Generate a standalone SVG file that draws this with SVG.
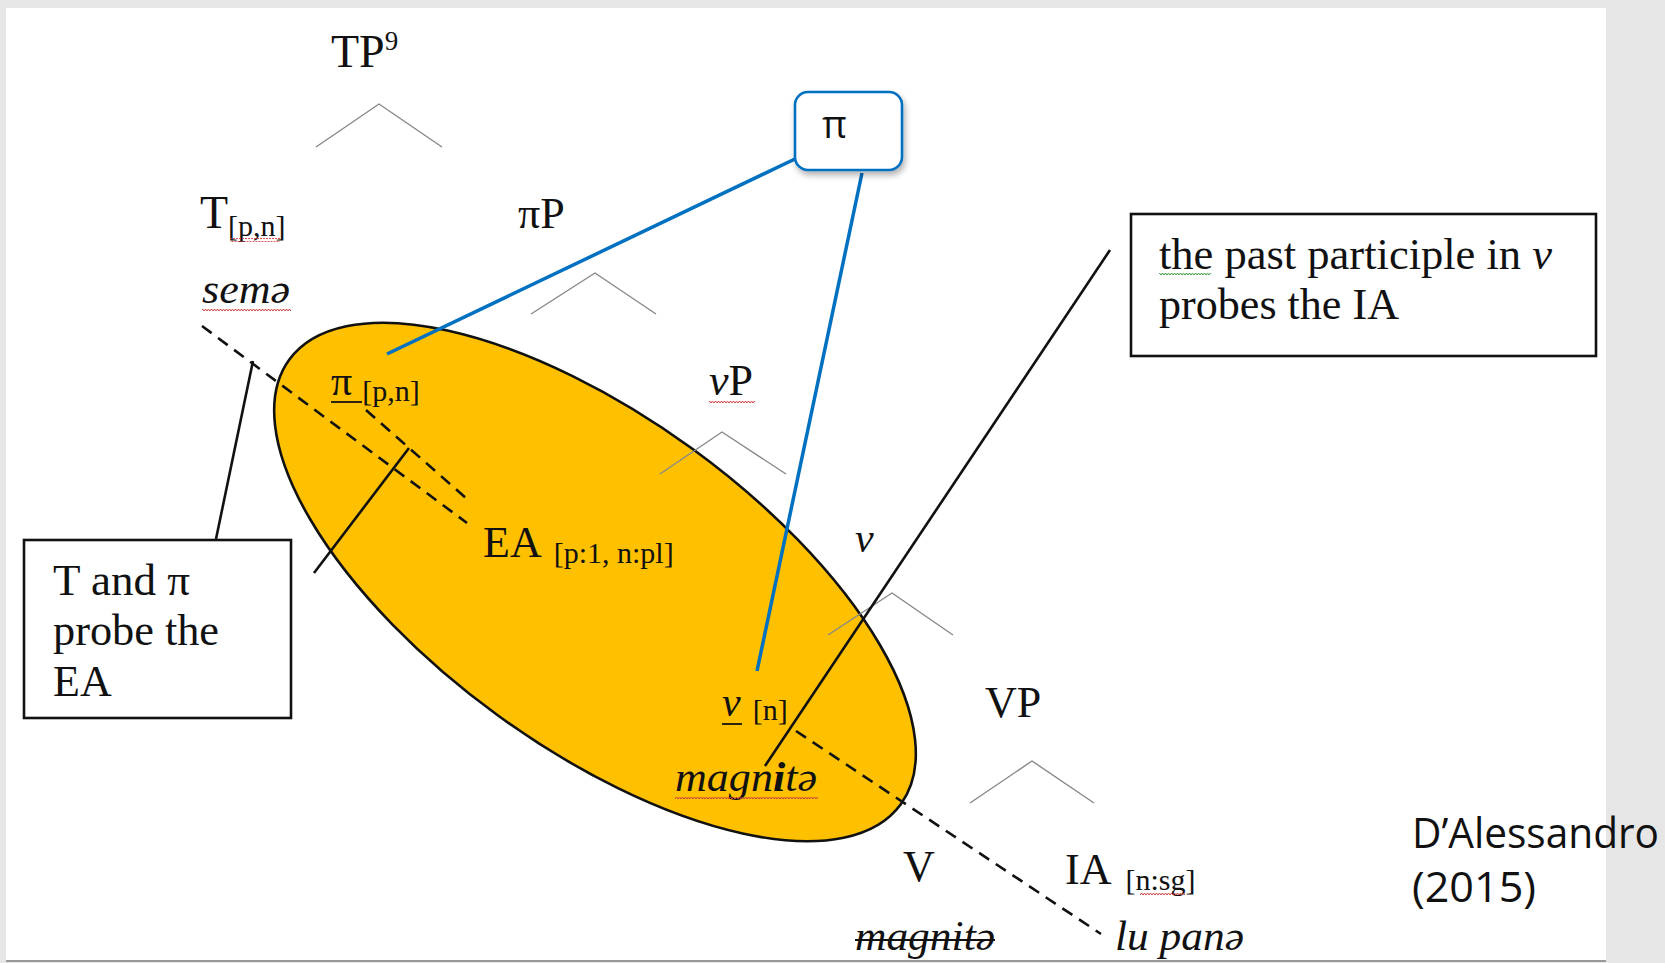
<svg xmlns="http://www.w3.org/2000/svg" width="1665" height="963" viewBox="0 0 1665 963">
<style>
.t{font-family:"Liberation Serif","Times New Roman",serif;fill:#111}
.it{font-style:italic}
.br{stroke:#888;stroke-width:1.4;fill:none}
.conn{stroke:#111;stroke-width:2.6;fill:none}
.dash{stroke:#111;stroke-width:2.6;fill:none;stroke-dasharray:12 8}
.blue{stroke:#0070C0;stroke-width:3.5;fill:none}
.box{fill:#fff;stroke:#111;stroke-width:2.6}
.sans{font-family:"Open Sans","Noto Sans","Liberation Sans",sans-serif;fill:#111}
</style>
<defs>
<pattern id="wavyR" width="6" height="4" patternUnits="userSpaceOnUse"><path d="M0 3 L1.5 1 L3 3 L4.5 1 L6 3" stroke="#d04040" stroke-width="1" fill="none"/></pattern>
<pattern id="wavyG" width="6" height="4" patternUnits="userSpaceOnUse"><path d="M0 3 L1.5 1 L3 3 L4.5 1 L6 3" stroke="#3a9a3a" stroke-width="1" fill="none"/></pattern>
<filter id="sh" x="-20%" y="-20%" width="150%" height="150%"><feDropShadow dx="2" dy="4" stdDeviation="3" flood-color="#000" flood-opacity="0.3"/></filter>
</defs>
<rect x="0" y="0" width="1665" height="963" fill="#e6e6e6"/>
<rect x="6" y="8" width="1600" height="953" fill="#fff"/>
<line x1="6" y1="961" x2="1606" y2="961" stroke="#999" stroke-width="2"/>

<g id="ellipse">
<ellipse cx="595" cy="582" rx="378" ry="165" transform="rotate(36 595 582)" fill="#FFC000" stroke="#111" stroke-width="2.6"/>
</g>

<g id="tree">
<polyline class="br" points="316,147 379,104 442,147"/>
<polyline class="br" points="531,314 595,273 656,314"/>
<polyline class="br" points="660,474 722,432 786,474"/>
<polyline class="br" points="828,635 892,593 953,635"/>
<polyline class="br" points="970,803 1032,761 1094,803"/>
</g>

<g id="connectors">
<line class="dash" x1="202" y1="326" x2="467" y2="523"/>
<line class="dash" x1="366" y1="410" x2="467" y2="499"/>
<line class="dash" x1="796" y1="731" x2="1101" y2="934"/>
<line class="conn" x1="216" y1="539" x2="253" y2="361"/>
<line class="conn" x1="314" y1="573" x2="409" y2="448"/>
<line class="conn" x1="765" y1="766" x2="1110" y2="250"/>
<line class="blue" x1="797" y1="158" x2="387" y2="354"/>
<line class="blue" x1="862" y1="173" x2="757" y2="671"/>
</g>

<g id="TP"><text class="t" x="331" y="67" font-size="46">TP<tspan font-size="27" dy="-17">9</tspan></text></g>
<g id="T"><text class="t" x="200" y="228" font-size="46">T<tspan font-size="30" dy="8">[p,n]</tspan></text>
<rect x="230" y="238" width="50" height="4" fill="url(#wavyR)"/></g>
<g id="piP"><text class="t" x="518" y="228" font-size="44">πP</text></g>
<g id="sema"><text class="t it" x="202" y="303" font-size="42" textLength="88" lengthAdjust="spacingAndGlyphs">semə</text>
<rect x="202" y="309" width="89" height="4" fill="url(#wavyR)"/></g>
<g id="vP"><text class="t" x="709" y="395" font-size="44"><tspan font-style="italic">v</tspan>P</text>
<rect x="709" y="400" width="46" height="4" fill="url(#wavyR)"/></g>
<g id="v"><text class="t it" x="855" y="552" font-size="42">v</text></g>
<g id="VP"><text class="t" x="985" y="717" font-size="44">VP</text></g>
<g id="V"><text class="t" x="903" y="881" font-size="44">V</text></g>
<g id="IA"><text class="t" x="1065" y="884" font-size="44">IA<tspan font-size="30" dx="14" dy="6">[n:sg]</tspan></text>
<rect x="1140" y="892" width="45" height="4" fill="url(#wavyR)"/></g>
<g id="magnita-strike"><text class="t it" x="855" y="950" font-size="42" textLength="140" lengthAdjust="spacingAndGlyphs">magnitə</text>
<line x1="855" y1="940" x2="995" y2="940" stroke="#111" stroke-width="2"/></g>
<g id="lupana"><text class="t it" x="1115" y="950" font-size="42" textLength="129" lengthAdjust="spacingAndGlyphs">lu panə</text></g>

<g id="pi-pn"><text class="t" x="331" y="395" font-size="42">π<tspan font-size="30" dx="10" dy="6">[p,n]</tspan></text>
<line x1="331" y1="402" x2="362" y2="402" stroke="#111" stroke-width="1.8"/></g>
<g id="EA"><text class="t" x="483" y="557" font-size="44">EA<tspan font-size="30" dx="12" dy="6">[p:1, n:pl]</tspan></text></g>
<g id="v-n"><text class="t" x="722" y="716" font-size="42"><tspan font-style="italic">v</tspan><tspan font-size="30" dx="12" dy="4">[n]</tspan></text>
<line x1="722" y1="724" x2="742" y2="724" stroke="#111" stroke-width="1.8"/></g>
<g id="magnita"><text class="t it" x="675" y="791" font-size="42" textLength="142" lengthAdjust="spacingAndGlyphs">magn<tspan font-weight="bold">i</tspan>tə</text>
<rect x="675" y="797" width="143" height="4" fill="url(#wavyR)"/></g>

<g id="pi-box">
<rect x="795" y="92" width="107" height="78" rx="13" fill="#fff" stroke="#0070C0" stroke-width="2.6" filter="url(#sh)"/>
<text class="sans" x="822" y="138" font-size="38">π</text>
</g>

<g id="box-T">
<rect class="box" x="24" y="540" width="267" height="178"/>
<text class="t" x="53" y="595" font-size="44" textLength="137" lengthAdjust="spacingAndGlyphs">T and π</text>
<text class="t" x="53" y="645" font-size="44" textLength="166" lengthAdjust="spacingAndGlyphs">probe the</text>
<text class="t" x="53" y="696" font-size="44">EA</text>
</g>

<g id="box-v">
<rect class="box" x="1131" y="214" width="465" height="142"/>
<text class="t" x="1159" y="269" font-size="44" textLength="393" lengthAdjust="spacingAndGlyphs">the past participle  in <tspan font-style="italic">v</tspan></text>
<text class="t" x="1159" y="319" font-size="44" textLength="240" lengthAdjust="spacingAndGlyphs">probes the IA</text>
<rect x="1159" y="273" width="52" height="4" fill="url(#wavyG)"/>
</g>

<g id="citation">
<text class="sans" x="1412" y="848" font-size="42" textLength="247" lengthAdjust="spacingAndGlyphs">D’Alessandro</text>
<text class="sans" x="1412" y="902" font-size="42" textLength="124" lengthAdjust="spacingAndGlyphs">(2015)</text>
</g>
</svg>
